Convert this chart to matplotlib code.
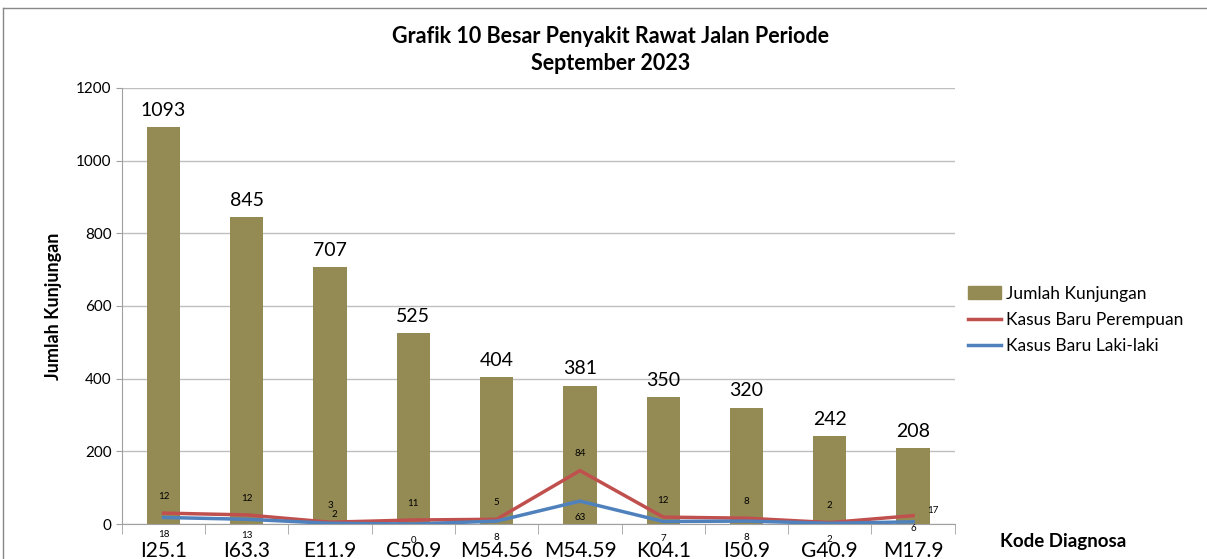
import matplotlib.pyplot as plt
import numpy as np
from matplotlib.lines import Line2D
from matplotlib.patches import Patch

plt.rcParams['font.family'] = ['Lato', 'DejaVu Sans']

# data
kode = ["I25.1", "I63.3", "E11.9", "C50.9", "M54.56", "M54.59", "K04.1", "I50.9", "G40.9", "M17.9"]
kunjungan = [1093, 845, 707, 525, 404, 381, 350, 320, 242, 208]
baru_laki = [18, 13, 2, 0, 8, 63, 7, 8, 2, 6]
baru_perempuan = [12, 12, 3, 11, 5, 84, 12, 8, 2, 17]

bar_color = "#948A54"
red = "#C0504D"
blue = "#4F81BD"

fig = plt.figure(figsize=(12.07, 5.59), dpi=100)
ax = fig.add_axes([0.101, 0.0626, 0.69, 0.78])

x = np.arange(len(kode))
ax.bar(x, kunjungan, width=0.4, color=bar_color, zorder=2)
for xi, v in zip(x, kunjungan):
    ax.annotate(str(v), (xi, v), xytext=(0, 6), textcoords="offset points",
                ha="center", va="bottom", fontsize=14)

# stacked lines (Excel style)
laki = np.array(baru_laki)
perem = laki + np.array(baru_perempuan)
ax.plot(x, perem, color=red, lw=2.5, zorder=3)
ax.plot(x, laki, color=blue, lw=2.5, zorder=3)

for i in range(len(x)):
    r_off = (0, 12)
    b_off = (0, -12)
    if i == 2:
        b_off = (3, 6)
    if i == 9:
        r_off = (14, 4)
        b_off = (0, -5)
    ax.annotate(str(baru_perempuan[i]), (x[i], perem[i]), xytext=r_off, textcoords="offset points",
                ha="center", va="center", fontsize=7)
    ax.annotate(str(baru_laki[i]), (x[i], laki[i]), xytext=b_off, textcoords="offset points",
                ha="center", va="center", fontsize=7, annotation_clip=False)

ax.set_xlim(-0.5, len(kode) - 0.5)
ax.set_ylim(0, 1200)
ax.set_yticks(range(0, 1201, 200))
ax.tick_params(axis="y", labelsize=11, length=4, color="#A0A0A0")
ax.set_xticks(x)
ax.set_xticklabels(kode, fontsize=15)
ax.set_xticks(np.arange(-0.5, len(kode), 1), minor=True)
ax.tick_params(axis="x", which="major", length=0, pad=12)
ax.tick_params(axis="x", which="minor", length=7, color="#A0A0A0")
ax.grid(axis="y", color="#BFBFBF", lw=1, zorder=0)
for s in ["top", "right"]:
    ax.spines[s].set_visible(False)
ax.spines["left"].set_color("#A0A0A0")
ax.spines["bottom"].set_color("#A0A0A0")

ax.set_ylabel("Jumlah Kunjungan", fontsize=13, fontweight="bold", labelpad=10)
fig.text(1063 / 1207, 1 - 541 / 559, "Kode Diagnosa", fontsize=13.5, fontweight="bold",
         ha="center", va="center")
fig.text(611 / 1207, 1 - 50 / 559, "Grafik 10 Besar Penyakit Rawat Jalan Periode\nSeptember 2023",
         fontsize=15.5, fontweight="bold", ha="center", va="center", linespacing=1.35)

handles = [Patch(color=bar_color), Line2D([], [], color=red, lw=2.5), Line2D([], [], color=blue, lw=2.5)]
labels = ["Jumlah Kunjungan", "Kasus Baru Perempuan", "Kasus Baru Laki-laki"]
fig.legend(handles, labels, loc="center left", bbox_to_anchor=(952 / 1207, 1 - 320 / 559),
           frameon=False, fontsize=12.5, handlelength=1.9, handletextpad=0.3, labelspacing=0.6)

# chart border
fig.add_artist(Line2D([3 / 1207, 3 / 1207], [0, 1 - 8 / 559], transform=fig.transFigure, color="#888888", lw=1))
fig.add_artist(Line2D([3 / 1207, 1], [1 - 8 / 559, 1 - 8 / 559], transform=fig.transFigure, color="#888888", lw=1))

fig.savefig("out.png", dpi=100)
